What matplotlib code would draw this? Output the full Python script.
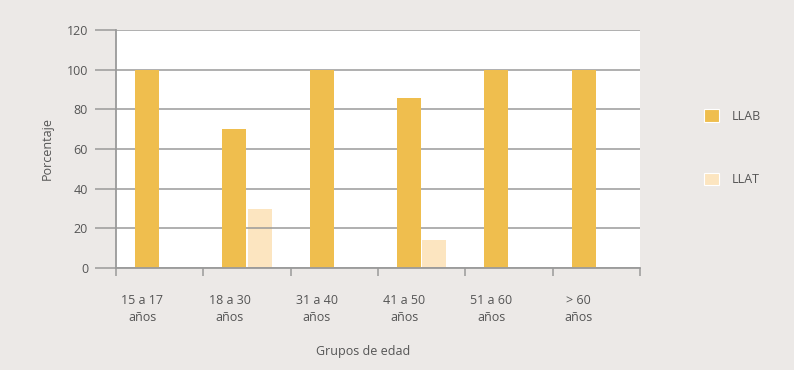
import matplotlib
matplotlib.use("Agg")
import matplotlib.pyplot as plt
import numpy as np
from matplotlib.patches import Patch

categories = ["15 a 17\naños", "18 a 30\naños", "31 a 40\naños", "41 a 50\naños", "51 a 60\naños", "> 60\naños"]
llab = [100, 70, 100, 85.7, 100, 100]
llat = [0, 30, 0, 14.3, 0, 0]
series_names = ["LLAB", "LLAT"]
yticks = [0, 20, 40, 60, 80, 100, 120]

bg = "#ECE9E7"
c_llab = "#EFBE4E"
c_llat = "#FCE5C0"
grid_c = "#9A9A9A"
txt_c = "#555555"

plt.rcParams["font.family"] = ["Open Sans", "DejaVu Sans"]

fig = plt.figure(figsize=(7.94, 3.70), dpi=100, facecolor=bg)
ax = fig.add_axes([116/794, 1-268/370, (640-116)/794, (268-30)/370])
ax.set_facecolor("white")

x = np.arange(len(categories))
w = 0.275
ax.bar(x - 0.145, llab, width=w, color=c_llab, zorder=1)
ax.bar(x + 0.145, llat, width=w, color=c_llat, zorder=0.4)

ax.set_xlim(-0.5, len(categories) - 0.5)
ax.set_ylim(0, 120)
ax.set_axisbelow(True)
ax.set_yticks(yticks)
ax.yaxis.grid(True, color=grid_c, linewidth=1.1)
ax.tick_params(axis="y", length=15.1, width=1.1, color=grid_c, pad=5, labelsize=9, labelcolor=txt_c)

ax.set_xticks(x - 0.2)
ax.set_xticklabels(categories, linespacing=1.4)
ax.tick_params(axis="x", which="major", length=0, pad=19, labelsize=9, labelcolor=txt_c)
ax.set_xticks(np.arange(-0.5, len(categories)), minor=True)
ax.tick_params(axis="x", which="minor", length=6, width=1.1, color=grid_c)

for s in ["top", "right"]:
    ax.spines[s].set_visible(False)
for s in ["left", "bottom"]:
    ax.spines[s].set_color(grid_c)
    ax.spines[s].set_linewidth(1.3)

fig.text(47/794, 1-149/370, "Porcentaje", rotation=90, ha="center", va="center", fontsize=9, color=txt_c)
fig.text(363/794, 1-351/370, "Grupos de edad", ha="center", va="center", fontsize=9, color=txt_c)

handles = [Patch(facecolor=c_llab, edgecolor="white", linewidth=0.8),
           Patch(facecolor=c_llat, edgecolor="white", linewidth=0.8)]
leg = fig.legend(handles, series_names, loc="upper left", bbox_to_anchor=(704/794, 1-109/370),
                 frameon=False, fontsize=9, handlelength=1.2, handleheight=1.2,
                 handletextpad=1.0, labelspacing=4.0, borderpad=0, borderaxespad=0)
for t in leg.get_texts():
    t.set_color(txt_c)

fig.savefig("out.png", dpi=100, facecolor=bg)
